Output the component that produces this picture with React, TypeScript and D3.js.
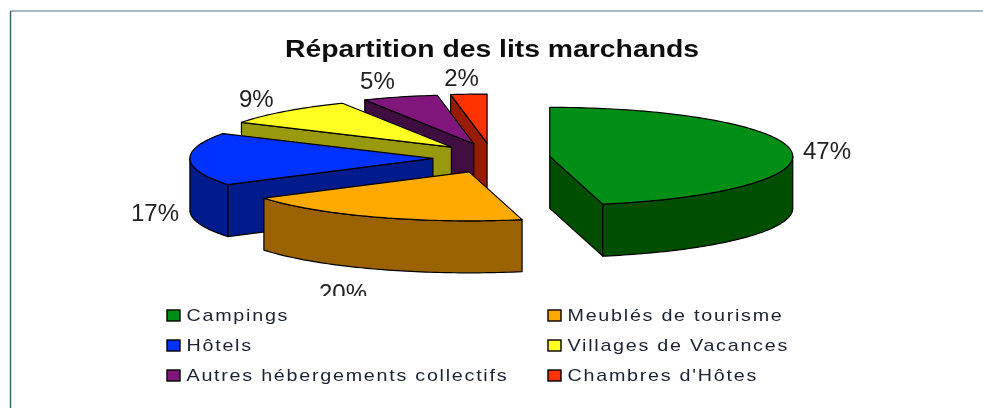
import React from 'react';
import * as d3 from 'd3';

const categories = ['Campings', 'Meublés de tourisme', 'Hôtels', 'Villages de Vacances', 'Autres hébergements collectifs', "Chambres d'Hôtes"];
const values = [46.5, 19.5, 17.4, 9.2, 5, 2.4];
const topColors = ['#048f14', '#ffaa00', '#0033ff', '#ffff20', '#80187c', '#ff3300'];
const sideColors = ['#004f06', '#9a6200', '#001a8c', '#999910', '#400a40', '#991a00'];

const width = 983;
const height = 408;
const cx = 491.5;
const cy = 158;
const rx = 243;
const ry = 49;
const depth = 52;
const explodeX = 58.6;
const explodeY = 15;
const labelRx = 285;
const labelRy = 72;
// hand nudges so the labels land where the reference has them
const labelNudge = [[-6, 3], [-17, 3], [7, 1], [0, 4], [-10, 6], [-4, 7]];

const pie = d3.pie<number>().sort(null).value(d => d);
const line = d3.line();

// point of the tilted ellipse, angle is clockwise from 12 o'clock
const px = (a: number) => rx * Math.sin(a);
const py = (a: number) => -ry * Math.cos(a);

function arcAngles(a0: number, a1: number) {
  const pts = d3.range(a0, a1, 0.02);
  pts.push(a1);
  return pts;
}

function Slice({ arc, i }: { arc: d3.PieArcDatum<number>; i: number }) {
  const a0 = arc.startAngle;
  const a1 = arc.endAngle;
  const mid = (a0 + a1) / 2;
  const ox = cx + explodeX * Math.sin(mid);
  const oy = cy - explodeY * Math.cos(mid);

  const rim = arcAngles(a0, a1).map(a => [px(a), py(a)] as [number, number]);
  const top = line([[0, 0], ...rim, [0, 0]]) + 'Z';

  const walls: string[] = [];
  // radial walls that face the viewer
  if (Math.sin(a0) < -0.001) {
    walls.push(line([[0, 0], [px(a0), py(a0)], [px(a0), py(a0) + depth], [0, depth]]) + 'Z');
  }
  if (Math.sin(a1) > 0.001) {
    walls.push(line([[0, 0], [px(a1), py(a1)], [px(a1), py(a1) + depth], [0, depth]]) + 'Z');
  }
  // outer wall, only the front half of the rim shows
  const f0 = Math.max(a0, Math.PI / 2);
  const f1 = Math.min(a1, Math.PI * 1.5);
  if (f0 < f1) {
    const front = arcAngles(f0, f1).map(a => [px(a), py(a)] as [number, number]);
    const back = front.map(p => [p[0], p[1] + depth] as [number, number]).reverse();
    walls.push(line([...front, ...back]) + 'Z');
  }

  return (
    <g transform={`translate(${ox},${oy})`} stroke="#000" strokeWidth={1.2} strokeLinejoin="round">
      {walls.map((d, k) => <path key={k} d={d} fill={sideColors[i]} />)}
      <path d={top} fill={topColors[i]} />
    </g>
  );
}

export default function App() {
  const arcs = pie(values);
  const legendX = d3.scalePoint<number>().domain([0, 1]).range([167, 548]);
  const legendY = d3.scalePoint<number>().domain([0, 1, 2]).range([315, 375]);

  return (
    <svg width={width} height={height} style={{ position: 'absolute', left: 0, top: 0, background: '#fff' }}
      fontFamily="'Liberation Sans', Arial, sans-serif">
      <defs>
        <filter id="soft"><feGaussianBlur stdDeviation="0.45" /></filter>
        <clipPath id="plotClip"><rect x={0} y={0} width={width} height={296} /></clipPath>
      </defs>
      <line x1={10} x2={width} y1={11} y2={11} stroke="#8aa5aa" strokeWidth={1.5} />
      <line x1={10.5} x2={10.5} y1={11} y2={height} stroke="#3a6a72" strokeWidth={1.5} />
      <g filter="url(#soft)">
        <text x={285} y={57} fontSize={23} fontWeight="bold" fill="#111" textLength={414} lengthAdjust="spacingAndGlyphs">Répartition des lits marchands</text>
        {arcs.map((a, i) => ({ a, i })).reverse().map(({ a, i }) => <Slice key={i} arc={a} i={i} />)}
        <g clipPath="url(#plotClip)" fontSize={24} fill="#222" textAnchor="middle">
          {arcs.map((a, i) => {
            const mid = (a.startAngle + a.endAngle) / 2;
            const ox = cx + explodeX * Math.sin(mid);
            const oy = cy - explodeY * Math.cos(mid);
            const lowered = Math.cos(mid) < 0 ? depth : 0;
            return (
              <text key={i} x={ox + labelRx * Math.sin(mid) + labelNudge[i][0]} y={oy - labelRy * Math.cos(mid) + lowered + 8 + labelNudge[i][1]}>
                {`${Math.round(values[i])}%`}
              </text>
            );
          })}
        </g>
        <g fontSize={17} fill="#1a2230" letterSpacing={1.5}>
          {categories.map((c, i) => {
            const x = legendX(i % 2)!;
            const y = legendY(Math.floor(i / 2))!;
            return (
              <g key={c}>
                <rect x={x} y={y - 5} width={13} height={11} fill={topColors[i]} stroke="#000" strokeWidth={1.4} />
                <text transform={`translate(${x + 19.5},${y + 6}) scale(1.16,1)`}>{c}</text>
              </g>
            );
          })}
        </g>
      </g>
    </svg>
  );
}
